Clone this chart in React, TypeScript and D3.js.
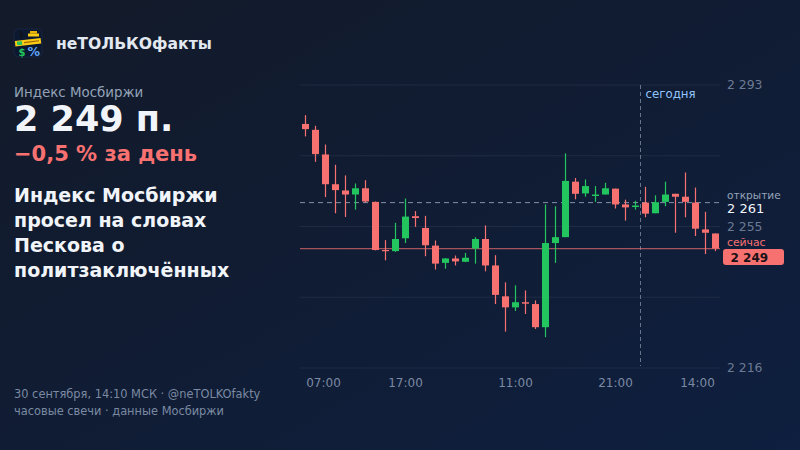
import React from "react";
import * as d3 from "d3";

const openV = [2282.4, 2280.8, 2274.1, 2266.0, 2264.3, 2263.2, 2264.9, 2261.2, 2248.1, 2247.8, 2251.3, 2257.3, 2254.1, 2249.3, 2244.6, 2245.8, 2244.9, 2248.5, 2251.1, 2243.9, 2235.5, 2232.5, 2233.9, 2233.4, 2227.1, 2250.0, 2251.6, 2266.7, 2263.5, 2262.8, 2263.2, 2264.8, 2260.5, 2259.8, 2261.0, 2258.1, 2261.2, 2263.4, 2262.6, 2261.0, 2253.7, 2252.6];
const highV = [2284.8, 2281.9, 2276.8, 2271.3, 2268.4, 2266.2, 2267.1, 2261.3, 2250.8, 2255.5, 2262.1, 2258.7, 2257.4, 2250.7, 2245.9, 2246.6, 2247.3, 2251.6, 2254.8, 2246.7, 2239.3, 2238.5, 2237.1, 2234.4, 2260.5, 2260.0, 2274.4, 2267.7, 2267.3, 2265.5, 2266.4, 2264.8, 2261.8, 2261.5, 2265.3, 2263.0, 2266.7, 2263.4, 2269.2, 2265.1, 2258.5, 2252.6];
const lowV = [2279.0, 2272.1, 2262.5, 2258.1, 2257.1, 2259.1, 2261.0, 2248.0, 2245.3, 2247.6, 2250.0, 2254.4, 2246.4, 2242.8, 2243.0, 2243.9, 2244.8, 2244.4, 2242.3, 2233.4, 2225.9, 2231.5, 2230.7, 2226.6, 2224.4, 2244.6, 2251.6, 2261.9, 2262.6, 2261.2, 2263.2, 2259.4, 2256.1, 2259.1, 2257.0, 2258.1, 2260.0, 2252.8, 2257.0, 2251.9, 2247.0, 2247.8];
const closeV = [2281.0, 2274.2, 2266.0, 2264.4, 2263.2, 2264.9, 2261.3, 2248.1, 2247.8, 2251.1, 2257.2, 2256.8, 2249.4, 2244.4, 2245.8, 2245.0, 2246.0, 2251.1, 2243.9, 2235.9, 2232.5, 2233.9, 2233.5, 2227.1, 2250.0, 2251.6, 2266.9, 2263.4, 2265.5, 2263.2, 2264.9, 2260.5, 2259.7, 2260.2, 2258.0, 2261.1, 2263.2, 2262.6, 2261.2, 2253.9, 2252.8, 2248.5];

const timeLabels = ["07:00", "17:00", "11:00", "21:00", "14:00"];
const timePos = [1.8, 10, 21, 31, 39.2];
const todayIndex = 34;
const openToday = 2261;
const yMin = 2216;
const yMax = 2293;
const gridCount = 4;
const labeledGrid = [0, 2, 4];

const headline = ["Индекс Мосбиржи", "просел на словах", "Пескова о", "политзаключённых"];

const RED = "#f87171";
const GREEN = "#22c55e";
const FONT = "DejaVu Sans, Verdana, sans-serif";

const fmt = (v: number) => {
  const r = Math.round(v).toString();
  return r.replace(/\B(?=(\d{3})+(?!\d))/g, " ");
};

export default function App() {
  const W = 800, H = 450;
  const n = closeV.length;
  const x = d3.scaleLinear().domain([-0.5, n - 0.5]).range([300.5, 720.5]);
  const y = d3.scaleLinear().domain([yMin, yMax]).range([368, 85]);
  const gridVals = d3.range(gridCount + 1).map((k) => yMin + (k * (yMax - yMin)) / gridCount);
  const last = closeV[n - 1];
  const bw = 7;
  const plotL = 300, plotR = 720;
  const divX = (x(todayIndex - 1) + x(todayIndex)) / 2;

  return (
    <svg width={W} height={H} style={{ position: "absolute", left: 0, top: 0 }} fontFamily={FONT}>
      <defs>
        <linearGradient id="bg" x1="0" y1="0" x2="1" y2="1">
          <stop offset="0" stopColor="#131a29" />
          <stop offset="1" stopColor="#0e1f3f" />
        </linearGradient>
      </defs>
      <rect width={W} height={H} fill="url(#bg)" />

      {/* logo */}
      <g>
        <rect x={14} y={29} width={28} height={28} rx={5} fill="#0c1730" stroke="#1c2a44" strokeWidth={0.8} />
        <path d="M20 31 L22 36 L20 38" stroke="#111" strokeWidth={1.2} fill="none" />
        <rect x={30} y={31} width={7} height={2.5} fill="#eab308" />
        <rect x={28} y={33.5} width={11} height={3} fill="#facc15" />
        <g transform="rotate(-7 28 42)">
          <rect x={15} y={39.5} width={26} height={5.5} fill="#facc15" />
          <rect x={17} y={40.5} width={5} height={3.5} fill="#22c55e" />
          <rect x={24} y={41.5} width={15} height={1.2} fill="#a16207" />
        </g>
        <text x={18.5} y={55.5} fontSize={10} fontWeight="bold" fill="#22c55e">$</text>
        <text x={27.5} y={56} fontSize={12.5} fontWeight="bold" fill="#60a5fa">%</text>
      </g>
      <text x={56} y={48.5} fontSize={15.6} fontWeight="bold" fill="#e2e8f0">неТОЛЬКОфакты</text>

      {/* left text */}
      <text x={14} y={96.7} fontSize={13.4} fill="#94a3b8">Индекс Мосбиржи</text>
      <text x={14} y={131} fontSize={35} fontWeight="bold" fill="#f1f5f9">{fmt(last)} п.</text>
      <text x={14} y={160.5} fontSize={21} fontWeight="bold" fill={RED}>−0,5 % за день</text>
      {headline.map((l, i) => (
        <text key={i} x={14} y={201.7 + i * 25} fontSize={19} fontWeight="bold" fill="#f1f5f9">{l}</text>
      ))}
      <text x={14} y={398} fontSize={11.4} fill="#7b8aa3">30 сентября, 14:10 МСК · @neTOLKOfakty</text>
      <text x={14} y={415} fontSize={11.4} fill="#7b8aa3">часовые свечи · данные Мосбиржи</text>

      {/* grid */}
      {gridVals.map((v, i) => (
        <line key={i} x1={plotL} x2={plotR} y1={y(v)} y2={y(v)} stroke="#243149" strokeWidth={1} opacity={0.75} />
      ))}
      {labeledGrid.map((k) => (
        <text key={k} x={727} y={y(gridVals[k])} dy="0.36em" fontSize={12.4} fill="#6b7a93">{fmt(gridVals[k])}</text>
      ))}

      {/* today divider */}
      <line x1={divX} x2={divX} y1={85} y2={366} stroke="#64748b" strokeDasharray="4 3" strokeWidth={1} />
      <text x={divX + 5} y={97.5} fontSize={11.8} fill="#93c5fd">сегодня</text>

      {/* open line */}
      <line x1={plotL} x2={plotR} y1={y(openToday)} y2={y(openToday)} stroke="#8391a7" strokeDasharray="5 4" strokeWidth={1} />
      {/* current line */}
      <line x1={plotL} x2={plotR} y1={y(last)} y2={y(last)} stroke={RED} strokeOpacity={0.65} strokeWidth={1.2} />

      {/* candles */}
      {closeV.map((c, i) => {
        const o = openV[i];
        const up = c >= o;
        const col = up ? GREEN : RED;
        const top = y(Math.max(o, c));
        const bot = y(Math.min(o, c));
        const h = Math.max(1.2, bot - top);
        return (
          <g key={i}>
            <line x1={x(i)} x2={x(i)} y1={y(highV[i])} y2={y(lowV[i])} stroke={col} strokeWidth={1.2} />
            <rect x={x(i) - bw / 2} y={top} width={bw} height={h} fill={col} />
          </g>
        );
      })}

      {/* time axis */}
      {timeLabels.map((t, i) => (
        <text key={t} x={x(timePos[i])} y={387} textAnchor="middle" fontSize={12} fill="#7b8aa3">{t}</text>
      ))}

      {/* right labels */}
      <text x={727} y={199} fontSize={10.6} fill="#94a3b8">открытие</text>
      <text x={727} y={213} fontSize={13} fill="#f1f5f9">{fmt(openToday)}</text>
      <text x={727} y={245.7} fontSize={10.8} fill={RED}>сейчас</text>
      <rect x={723} y={249} width={61} height={16} rx={3} fill={RED} />
      <text x={730.5} y={261.8} fontSize={12} fontWeight="bold" fill="#1a1116">{fmt(last)}</text>
    </svg>
  );
}
